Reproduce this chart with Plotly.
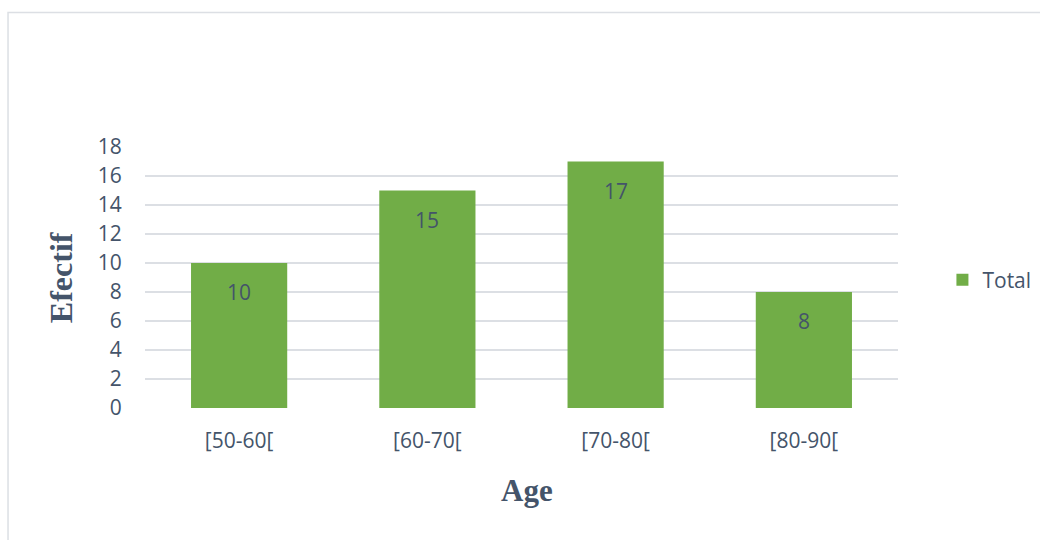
import plotly.graph_objects as go

# Age classes and counts
age_classes = ["[50-60[", "[60-70[", "[70-80[", "[80-90["]
effectif = [10, 15, 17, 8]
y_ticks = [0, 2, 4, 6, 8, 10, 12, 14, 16, 18]
series_name = "Total"

TEXT = "#44546a"
GRID = "#dcdfe4"
BAR = "#71ad47"

fig = go.Figure()
fig.add_trace(go.Bar(
    x=age_classes,
    y=effectif,
    name=series_name,
    marker=dict(color=BAR, line=dict(width=0)),
    showlegend=True,
))

# value labels placed just under the top of each bar
for cat, val in zip(age_classes, effectif):
    fig.add_annotation(
        x=cat, y=val, xref="x", yref="y",
        text=str(val), showarrow=False,
        yanchor="middle", yshift=-29,
        font=dict(family="Open Sans", size=21, color=TEXT),
    )

# axis titles
fig.add_annotation(
    xref="paper", yref="paper", x=-0.112, y=0.5,
    text="<b>Efectif</b>", showarrow=False, textangle=-90,
    xanchor="center", yanchor="middle",
    font=dict(family="Liberation Serif", size=32, color=TEXT),
)
fig.add_annotation(
    xref="paper", yref="paper", x=0.507, y=-0.318,
    text="<b>Age</b>", showarrow=False,
    xanchor="center", yanchor="middle",
    font=dict(family="Liberation Serif", size=31, color=TEXT),
)

# chart-area outline
fig.add_shape(
    type="rect", xref="paper", yref="paper",
    x0=-0.1819, x1=1.2, y0=-0.53, y1=1.515,
    line=dict(color=GRID, width=1.5), fillcolor="rgba(0,0,0,0)",
    layer="below",
)

fig.update_layout(
    width=1040, height=540,
    margin=dict(l=145, r=142, t=147, b=132, autoexpand=False),
    paper_bgcolor="white", plot_bgcolor="white",
    bargap=0.489,
    font=dict(family="Open Sans", size=21, color=TEXT),
    legend=dict(
        x=1.059, y=0.49, xanchor="left", yanchor="middle",
        font=dict(family="Open Sans", size=21, color=TEXT),
        bgcolor="rgba(0,0,0,0)",
    ),
    xaxis=dict(
        showgrid=False, zeroline=False, showline=False,
        ticks="outside", ticklen=14, tickcolor="rgba(0,0,0,0)",
        tickfont=dict(family="Open Sans", size=21, color=TEXT),
    ),
    yaxis=dict(
        range=[0, 18], tickvals=y_ticks,
        showgrid=True, gridcolor=GRID, gridwidth=1.5,
        zeroline=False, showline=False,
        ticks="outside", ticklen=18, tickcolor="rgba(0,0,0,0)",
        tickfont=dict(family="Open Sans", size=21, color=TEXT),
    ),
)

fig.write_html("out.html")
